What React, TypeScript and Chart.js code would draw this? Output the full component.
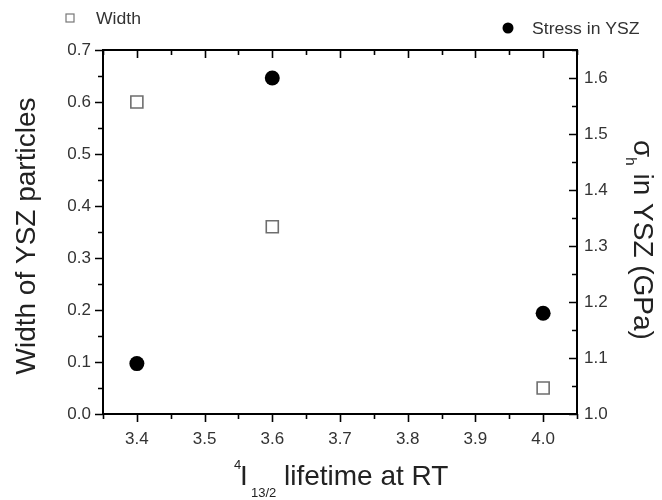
import React, { useEffect, useRef } from "react";
import { Chart, registerables } from "chart.js";

Chart.register(...registerables);

// ---- Data ----
const lifetimes: number[] = [3.4, 3.6, 4.0];
const widthValues: number[] = [0.6, 0.36, 0.05];
const stressValues: number[] = [1.09, 1.6, 1.18];

const xTickValues: number[] = [3.4, 3.5, 3.6, 3.7, 3.8, 3.9, 4.0];
const yLeftTickValues: number[] = [0, 0.1, 0.2, 0.3, 0.4, 0.5, 0.6, 0.7];
const yRightTickValues: number[] = [1.0, 1.1, 1.2, 1.3, 1.4, 1.5, 1.6];

const xRange = { min: 3.35, max: 4.05 };
const yLeftRange = { min: 0, max: 0.7 };
const yRightRange = { min: 1.0, max: 1.65 };

const FONT = "'Liberation Sans', Arial, sans-serif";

function drawText(
  ctx: CanvasRenderingContext2D,
  s: string,
  x: number,
  y: number,
  size: number,
  color: string,
  sx = 1
) {
  ctx.save();
  ctx.translate(x, y);
  ctx.scale(sx, 1);
  ctx.font = `${size}px ${FONT}`;
  ctx.fillStyle = color;
  ctx.textAlign = "left";
  ctx.textBaseline = "alphabetic";
  ctx.fillText(s, 0, 0);
  ctx.restore();
}

const framePlugin = {
  id: "frameAndTitles",
  afterDraw(chart: any) {
    const { ctx, chartArea: a, scales } = chart;
    const x = scales.x;
    const y = scales.y;
    const y1 = scales.y1;
    ctx.save();
    // frame
    ctx.strokeStyle = "#000";
    ctx.lineWidth = 2;
    ctx.strokeRect(a.left, a.top, a.right - a.left, a.bottom - a.top);

    ctx.lineWidth = 1.6;
    const isMajor = (v: number) => Math.abs(v * 10 - Math.round(v * 10)) < 1e-6;
    const each = (min: number, max: number, fn: (v: number, major: boolean) => void) => {
      const n = Math.round((max - min) / 0.05);
      for (let i = 0; i <= n; i++) {
        const v = min + i * 0.05;
        fn(v, isMajor(v));
      }
    };
    ctx.beginPath();
    // bottom (outward) and top (inward)
    each(xRange.min, xRange.max, (v, major) => {
      const p = Math.round(x.getPixelForValue(v)) + 0.5;
      const len = major ? 8 : 5;
      ctx.moveTo(p, a.bottom);
      ctx.lineTo(p, a.bottom + len);
      ctx.moveTo(p, a.top);
      ctx.lineTo(p, a.top + len);
    });
    // left (outward)
    each(yLeftRange.min, yLeftRange.max, (v, major) => {
      const p = Math.round(y.getPixelForValue(v)) + 0.5;
      const len = major ? 8 : 5;
      ctx.moveTo(a.left, p);
      ctx.lineTo(a.left - len, p);
    });
    // right (inward)
    each(yRightRange.min, yRightRange.max, (v, major) => {
      const p = Math.round(y1.getPixelForValue(v)) + 0.5;
      const len = major ? 8 : 5;
      ctx.moveTo(a.right, p);
      ctx.lineTo(a.right - len, p);
    });
    ctx.stroke();

    // ---- Legend ----
    ctx.strokeStyle = "#777";
    ctx.lineWidth = 1.2;
    ctx.fillStyle = "#fff";
    ctx.fillRect(66, 14, 8, 8);
    ctx.strokeRect(66, 14, 8, 8);
    drawText(ctx, "Width", 96, 24, 16, "#333", 1.1);
    ctx.fillStyle = "#000";
    ctx.beginPath();
    ctx.arc(508, 28, 5.5, 0, Math.PI * 2);
    ctx.fill();
    drawText(ctx, "Stress in YSZ", 532, 34, 16, "#333", 1.1);

    // ---- Left title ----
    ctx.save();
    ctx.translate(35, 236);
    ctx.rotate(-Math.PI / 2);
    ctx.font = `28px ${FONT}`;
    ctx.fillStyle = "#222";
    ctx.textAlign = "center";
    ctx.textBaseline = "alphabetic";
    ctx.fillText("Width of YSZ particles", 0, 0);
    ctx.restore();

    // ---- Bottom title ----
    drawText(ctx, "4", 234, 469, 13, "#222");
    drawText(ctx, "I", 240, 485, 28, "#222");
    drawText(ctx, "13/2", 251, 497, 13, "#222");
    drawText(ctx, "lifetime at RT", 284, 485, 28, "#222");

    // ---- Right title ----
    ctx.save();
    ctx.translate(634, 0);
    ctx.rotate(Math.PI / 2);
    ctx.fillStyle = "#222";
    ctx.textBaseline = "alphabetic";
    ctx.textAlign = "left";
    ctx.font = `28px ${FONT}`;
    const wSigma = ctx.measureText("\u03c3").width;
    const rest = " in YSZ (GPa)";
    const wRest = ctx.measureText(rest).width;
    ctx.font = `15px ${FONT}`;
    const wSub = ctx.measureText("h").width;
    const total = wSigma + wSub + wRest;
    let cx = 240 - total / 2;
    ctx.font = `28px ${FONT}`;
    ctx.fillText("\u03c3", cx, 0);
    cx += wSigma;
    ctx.font = `15px ${FONT}`;
    ctx.fillText("h", cx, 8);
    cx += wSub;
    ctx.font = `28px ${FONT}`;
    ctx.fillText(rest, cx, 0);
    ctx.restore();

    ctx.restore();
  },
};

const fixedTicks = (values: number[]) => (scale: any) => {
  scale.ticks = values.map((v) => ({ value: v }));
};

export default function App() {
  const ref = useRef<HTMLCanvasElement | null>(null);

  useEffect(() => {
    document.body.style.margin = "0";
    const canvas = ref.current;
    if (!canvas) return;
    const tickFont = { family: FONT, size: 17 };
    const fmt = (v: any) => Number(v).toFixed(1);
    const chart = new Chart(canvas, {
      type: "scatter",
      data: {
        datasets: [
          {
            label: "Width",
            data: lifetimes.map((t, i) => ({ x: t, y: widthValues[i] })),
            yAxisID: "y",
            pointStyle: "rect",
            pointRadius: 8.5,
            pointBorderWidth: 1.6,
            borderColor: "#6e6e6e",
            backgroundColor: "#ffffff",
          },
          {
            label: "Stress in YSZ",
            data: lifetimes.map((t, i) => ({ x: t, y: stressValues[i] })),
            yAxisID: "y1",
            pointStyle: "circle",
            pointRadius: 7.5,
            pointBorderWidth: 0,
            borderColor: "#000000",
            backgroundColor: "#000000",
          },
        ],
      },
      options: {
        animation: false,
        responsive: false,
        devicePixelRatio: 1,
        layout: { padding: { top: 50, left: 0, right: 0, bottom: 0 } },
        plugins: {
          legend: { display: false },
          tooltip: { enabled: false },
        },
        scales: {
          x: {
            type: "linear",
            position: "bottom",
            min: xRange.min,
            max: xRange.max,
            grid: { display: false, drawTicks: false },
            border: { display: false },
            afterBuildTicks: fixedTicks(xTickValues),
            ticks: {
              padding: 15,
              color: "#333",
              font: tickFont,
              maxRotation: 0,
              autoSkip: false,
              callback: fmt,
            },
            afterFit: (s: any) => {
              s.height = 86;
            },
          },
          y: {
            type: "linear",
            position: "left",
            min: yLeftRange.min,
            max: yLeftRange.max,
            grid: { display: false, drawTicks: false },
            border: { display: false },
            afterBuildTicks: fixedTicks(yLeftTickValues),
            ticks: {
              padding: 12,
              color: "#333",
              font: tickFont,
              autoSkip: false,
              callback: fmt,
            },
            afterFit: (s: any) => {
              s.width = 103;
            },
          },
          y1: {
            type: "linear",
            position: "right",
            min: yRightRange.min,
            max: yRightRange.max,
            grid: { display: false, drawTicks: false },
            border: { display: false },
            afterBuildTicks: fixedTicks(yRightTickValues),
            ticks: {
              padding: 7,
              color: "#333",
              font: tickFont,
              autoSkip: false,
              callback: fmt,
            },
            afterFit: (s: any) => {
              s.width = 85;
            },
          },
        },
      },
      plugins: [framePlugin],
    });
    return () => chart.destroy();
  }, []);

  return (
    <div style={{ width: 662, height: 500, position: "relative", background: "#fff" }}>
      <canvas ref={ref} width={662} height={500} style={{ display: "block" }} />
    </div>
  );
}
